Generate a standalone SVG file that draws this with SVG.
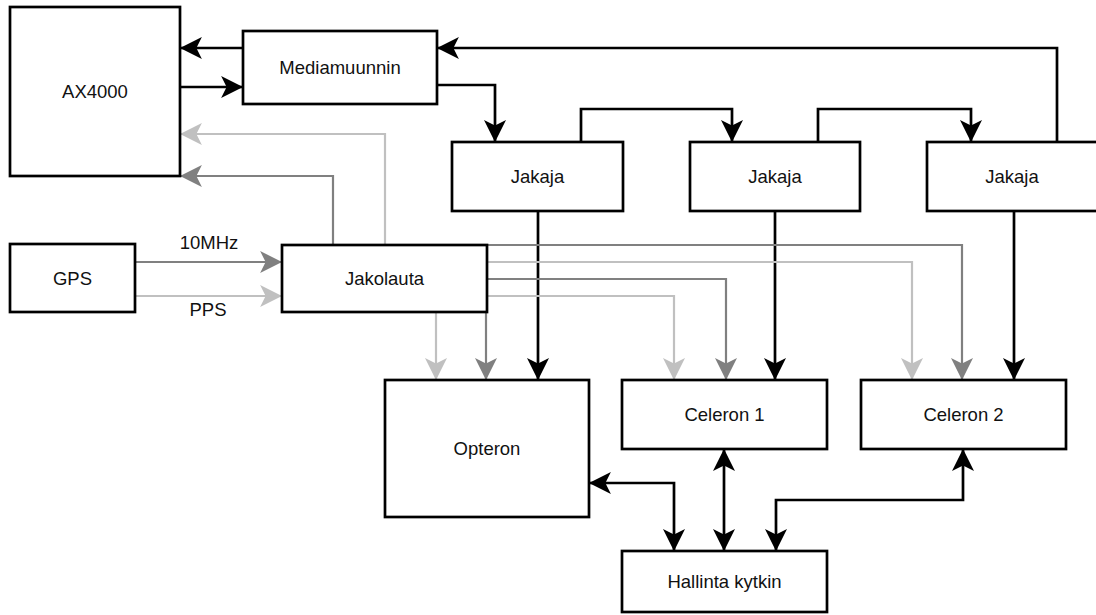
<svg xmlns="http://www.w3.org/2000/svg" width="1096" height="615" viewBox="0 0 1096 615">
<style>
.box{fill:#fff;stroke:#000;stroke-width:2.7}
.t{font-family:"Liberation Sans",Arial,Helvetica,sans-serif;font-size:18.5px;fill:#111;text-anchor:middle;dominant-baseline:central}
.k{fill:none;stroke:#000;stroke-width:2.7}
.d{fill:none;stroke:#808080;stroke-width:2.2}
.l{fill:none;stroke:#c0c0c0;stroke-width:2.2}
</style>
<defs>
<marker id="ak" markerUnits="userSpaceOnUse" markerWidth="22" markerHeight="22" viewBox="0 0 20 20" refX="19" refY="10" orient="auto-start-reverse"><path d="M20,10 L0,0 L5,10 L0,20 Z" fill="#000"/></marker>
<marker id="ad" markerUnits="userSpaceOnUse" markerWidth="22" markerHeight="22" viewBox="0 0 20 20" refX="19" refY="10" orient="auto"><path d="M20,10 L0,0 L5,10 L0,20 Z" fill="#808080"/></marker>
<marker id="al" markerUnits="userSpaceOnUse" markerWidth="22" markerHeight="22" viewBox="0 0 20 20" refX="19" refY="10" orient="auto"><path d="M20,10 L0,0 L5,10 L0,20 Z" fill="#c0c0c0"/></marker>
</defs>
<rect width="1096" height="615" fill="#fff"/>
<g id="connectors">
<path class="k" d="M243,48 H181" marker-end="url(#ak)"/>
<path class="k" d="M180,87 H242" marker-end="url(#ak)"/>
<path class="k" d="M1057,142 V48 H438" marker-end="url(#ak)"/>
<path class="k" d="M437,85 H495 V141" marker-end="url(#ak)"/>
<path class="k" d="M581,142 V109 H732 V141" marker-end="url(#ak)"/>
<path class="k" d="M818,142 V109 H971 V141" marker-end="url(#ak)"/>
<path class="k" d="M538,211 V379" marker-end="url(#ak)"/>
<path class="k" d="M775,211 V379" marker-end="url(#ak)"/>
<path class="k" d="M1014,211 V379" marker-end="url(#ak)"/>
<path class="k" d="M590,483 H674 V550" marker-start="url(#ak)" marker-end="url(#ak)"/>
<path class="k" d="M724,450 V550" marker-start="url(#ak)" marker-end="url(#ak)"/>
<path class="k" d="M963,450 V500 H776 V550" marker-start="url(#ak)" marker-end="url(#ak)"/>
<path class="d" d="M135,262 H281" marker-end="url(#ad)"/>
<path class="l" d="M135,296 H281" marker-end="url(#al)"/>
<path class="d" d="M333,245 V176 H181" marker-end="url(#ad)"/>
<path class="l" d="M385,245 V134 H181" marker-end="url(#al)"/>
<path class="d" d="M486,312 V379" marker-end="url(#ad)"/>
<path class="l" d="M436,312 V379" marker-end="url(#al)"/>
<path class="d" d="M487,279 H726 V379" marker-end="url(#ad)"/>
<path class="l" d="M487,296 H674 V379" marker-end="url(#al)"/>
<path class="d" d="M487,245 H962 V379" marker-end="url(#ad)"/>
<path class="l" d="M487,262 H912 V379" marker-end="url(#al)"/>
<text class="t" x="209" y="242">10MHz</text>
<text class="t" x="208" y="309">PPS</text>
</g>
<g id="ax4000"><rect class="box" x="10" y="7" width="170" height="169"/><text class="t" x="95" y="91.5">AX4000</text></g>
<g id="mediamuunnin"><rect class="box" x="243" y="31" width="194" height="73"/><text class="t" x="340" y="67.5">Mediamuunnin</text></g>
<g id="jakaja1"><rect class="box" x="452" y="142" width="171" height="69"/><text class="t" x="537.5" y="176.5">Jakaja</text></g>
<g id="jakaja2"><rect class="box" x="690" y="142" width="170" height="69"/><text class="t" x="775" y="176.5">Jakaja</text></g>
<g id="jakaja3"><rect class="box" x="927" y="142" width="175" height="69"/><text class="t" x="1012" y="176.5">Jakaja</text></g>
<g id="gps"><rect class="box" x="10" y="244" width="125" height="68"/><text class="t" x="72.5" y="278">GPS</text></g>
<g id="jakolauta"><rect class="box" x="282" y="245" width="205" height="67"/><text class="t" x="384.5" y="278.5">Jakolauta</text></g>
<g id="opteron"><rect class="box" x="385" y="380" width="204" height="137"/><text class="t" x="487" y="448.5">Opteron</text></g>
<g id="celeron1"><rect class="box" x="622" y="380" width="205" height="69"/><text class="t" x="724.5" y="414.5">Celeron 1</text></g>
<g id="celeron2"><rect class="box" x="861" y="380" width="205" height="69"/><text class="t" x="963.5" y="414.5">Celeron 2</text></g>
<g id="hallinta"><rect class="box" x="622" y="551" width="205" height="61"/><text class="t" x="724.5" y="581.5">Hallinta kytkin</text></g>
</svg>
